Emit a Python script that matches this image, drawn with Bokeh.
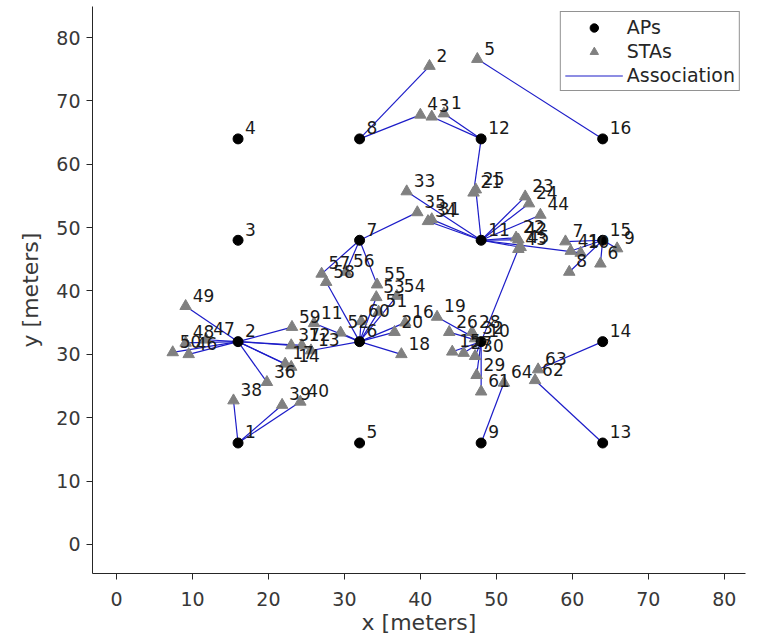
from bokeh.plotting import figure
from bokeh.models import ColumnDataSource, Legend, LegendItem, Range1d, FixedTicker
from bokeh.core.properties import value
from bokeh.embed import file_html
from bokeh.resources import INLINE

# Access points (4x4 grid)
ap_x = [16, 16, 16, 16, 32, 32, 32, 32, 48, 48, 48, 48, 64, 64, 64, 64]
ap_y = [16, 32, 48, 64, 16, 32, 48, 64, 16, 32, 48, 64, 16, 32, 48, 64]
ap_id = [str(i) for i in range(1, 17)]

# Stations: id, position, associated AP
sta_id = list(range(1, 65))
sta_x = [43.1, 41.2, 41.5, 40.0, 47.5, 63.7, 59.1, 59.6, 65.9, 61.1,
         26.0, 24.4, 25.6, 23.0, 44.2, 38.0, 22.2, 37.5, 42.2, 36.6,
         47.0, 52.6, 53.8, 54.3, 47.3, 43.8, 45.7, 46.8, 47.4, 47.2,
         41.5, 47.2, 38.2, 41.0, 39.6, 19.8, 23.0, 15.4, 21.8, 24.2,
         59.8, 52.9, 52.9, 55.8, 53.2, 9.5, 11.8, 9.1, 9.1, 7.4,
         34.5, 29.5, 34.2, 36.9, 34.3, 30.2, 27.0, 27.6, 23.1, 32.2,
         48.0, 55.1, 55.5, 51.0]
sta_y = [68.0, 75.5, 67.5, 67.8, 76.6, 44.3, 47.8, 43.0, 46.7, 46.0,
         34.9, 31.4, 30.6, 28.0, 30.4, 35.0, 28.5, 30.0, 35.9, 33.5,
         55.5, 48.4, 54.9, 53.8, 56.0, 33.5, 30.2, 33.5, 26.7, 29.7,
         51.3, 32.5, 55.7, 51.0, 52.4, 25.6, 31.4, 22.7, 22.0, 22.5,
         46.3, 48.1, 46.6, 52.0, 46.9, 30.0, 32.3, 31.8, 37.6, 30.3,
         36.7, 33.4, 39.0, 39.2, 41.0, 43.0, 42.7, 41.4, 34.3, 35.2,
         24.1, 25.9, 27.6, 25.5]
sta_ap = [12, 8, 12, 8, 16, 15, 15, 15, 15, 11,
          6, 2, 6, 2, 10, 6, 2, 6, 10, 6,
          12, 11, 11, 11, 11, 10, 10, 10, 10, 10,
          11, 10, 11, 11, 7, 2, 2, 1, 1, 1,
          15, 11, 10, 11, 11, 2, 2, 2, 2, 2,
          6, 6, 6, 6, 7, 7, 7, 6, 2, 6,
          10, 13, 14, 9]

FONT = "DejaVu Sans"
TXT = "#262626"
TICK = "#383838"

p = figure(width=753, height=640, output_backend="svg", toolbar_location=None,
           x_range=Range1d(-3.16, 82.8), y_range=Range1d(-4.6, 84.9),
           min_border_left=92, min_border_right=8, min_border_top=6,
           min_border_bottom=67)
p.background_fill_color = "white"
p.border_fill_color = "white"
p.outline_line_color = None
p.xgrid.grid_line_color = None
p.ygrid.grid_line_color = None

seg = ColumnDataSource(dict(
    x0=sta_x, y0=sta_y,
    x1=[ap_x[a - 1] for a in sta_ap],
    y1=[ap_y[a - 1] for a in sta_ap]))
r_line = p.segment("x0", "y0", "x1", "y1", source=seg, line_color="#1c1cc8",
                   line_width=1.2)

sta_src = ColumnDataSource(dict(x=sta_x, y=sta_y, t=[str(i) for i in sta_id]))
r_sta = p.scatter("x", "y", source=sta_src, marker="triangle", size=11.5,
                  fill_color="#808080", line_color="#808080")

ap_src = ColumnDataSource(dict(x=ap_x, y=ap_y, t=ap_id))
r_ap = p.scatter("x", "y", source=ap_src, marker="circle", size=10,
                 fill_color="black", line_color="black")

for src in (sta_src, ap_src):
    p.text("x", "y", text="t", source=src, x_offset=7, y_offset=-11,
           text_font=value(FONT), text_font_size="17px", text_color="#1a1a1a",
           text_align="left", text_baseline="middle")

for ax in (p.xaxis[0], p.yaxis[0]):
    ax.ticker = FixedTicker(ticks=[0, 10, 20, 30, 40, 50, 60, 70, 80])
    ax.minor_tick_line_color = None
    ax.major_tick_in = 0
    ax.major_tick_out = 6
    ax.axis_line_color = TXT
    ax.major_tick_line_color = TXT
    ax.major_label_text_color = TICK
    ax.major_label_text_font = FONT
    ax.major_label_text_font_size = "19px"
    ax.axis_label_text_font = FONT
    ax.axis_label_text_font_size = "22px"
    ax.axis_label_text_font_style = "normal"
    ax.axis_label_text_color = TICK

p.xaxis.axis_label = "x [meters]"
p.yaxis.axis_label = "y [meters]"
p.xaxis.major_label_standoff = 12
p.yaxis.major_label_standoff = 6
p.xaxis.axis_label_standoff = 1
p.yaxis.axis_label_standoff = 10

legend = Legend(items=[
    LegendItem(label="APs", renderers=[r_ap]),
    LegendItem(label="STAs", renderers=[r_sta]),
    LegendItem(label="Association", renderers=[r_line]),
], location="top_right")
legend.label_text_font = FONT
legend.label_text_font_size = "19px"
legend.label_text_color = TXT
legend.border_line_color = TXT
legend.border_line_width = 1
legend.background_fill_alpha = 1
legend.glyph_width = 58
legend.glyph_height = 21
legend.label_height = 21
legend.label_standoff = 4
legend.spacing = 2
legend.padding = 4
legend.margin = 5
p.add_layout(legend)

open("out.html", "w").write(file_html(p, INLINE))
